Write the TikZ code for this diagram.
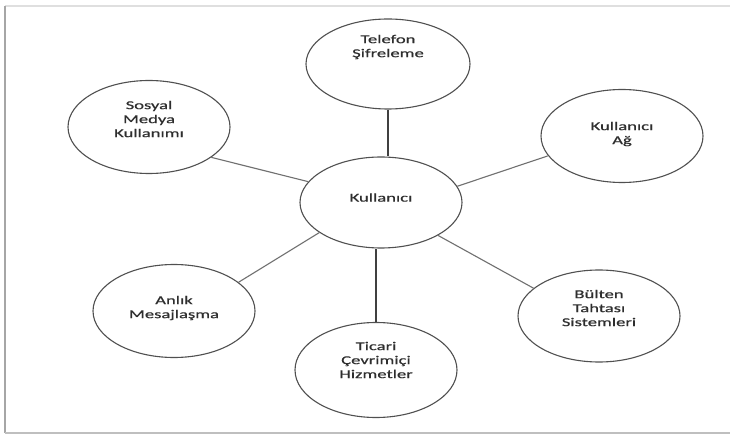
\documentclass[tikz,border=0pt]{standalone}
\usepackage{fontspec}
\setmainfont{Carlito}[FakeStretch=1.55,FakeBold=0.6]
\usetikzlibrary{shapes.geometric,calc}
\definecolor{edgegray}{HTML}{505050}
\definecolor{linegray}{HTML}{707070}
\definecolor{darkline}{HTML}{404040}
\definecolor{txtgray}{HTML}{2E2E2E}
\begin{document}
\begin{tikzpicture}[x=1pt,y=-1pt,
  ell/.style={ellipse,draw=edgegray,line width=1.1pt,fill=white,inner sep=0pt,minimum width=162pt,minimum height=92pt},
  txt/.style={align=center,text=txtgray,font=\fontsize{12}{14}\selectfont,inner sep=0pt},
  link/.style={draw=linegray,line width=1.1pt},
  vlink/.style={draw=darkline,line width=1.1pt}]
\useasboundingbox (0,0) rectangle (730,435);
\fill[white] (0,0) rectangle (730,435);
% frame
\draw[gray!25,line width=1.2pt] (5,6) -- (730,6);
\draw[gray!70,line width=1.6pt] (5,6) -- (5,433);
\draw[gray!50,line width=1.6pt] (5,433) -- (730,433);
% ellipses
\node[ell,minimum width=164pt,minimum height=90pt] (tel) at (388,64) {};
\node[ell,minimum height=93pt] (sos) at (149,127) {};
\node[ell,minimum height=91pt] (kul) at (381,202.5) {};
\node[ell,minimum height=93pt] (ag) at (622,136) {};
\node[ell,minimum height=93pt] (anl) at (174,311) {};
\node[ell,minimum height=95pt] (tic) at (376,370) {};
\node[ell,minimum height=92pt] (bul) at (599,316) {};
% texts
\node[txt] (telT) at ($(tel)+(0,-17)$) {Telefon\\Şifreleme};
\node[txt] (sosT) at ($(sos)+(0,-8)$) {Sosyal\\Medya\\Kullanımı};
\node[txt] (kulT) at ($(kul)+(0,-5)$) {Kullanıcı};
\node[txt] (agT) at ($(ag)+(0,-2)$) {Kullanıcı\\Ağ};
\node[txt] (anlT) at ($(anl)+(0,-3)$) {Anlık\\Mesajlaşma};
\node[txt] (ticT) at ($(tic)+(0,-10)$) {Ticari\\Çevrimiçi\\Hizmetler};
\node[txt] (bulT) at ($(bul)+(0,-8)$) {Bülten\\Tahtası\\Sistemleri};
% connectors
\draw[vlink] (tel.south) -- (tel.south |- kul.north);
\draw[vlink] (tic.north) -- (tic.north |- kul.south);
\draw[link] (sos.-26) -- (kul.164);
\draw[link] (kul.12) -- (ag.195);
\draw[link] (kul.206) -- (anl.24);
\draw[link] (kul.-30) -- (bul.157);
\end{tikzpicture}
\end{document}
